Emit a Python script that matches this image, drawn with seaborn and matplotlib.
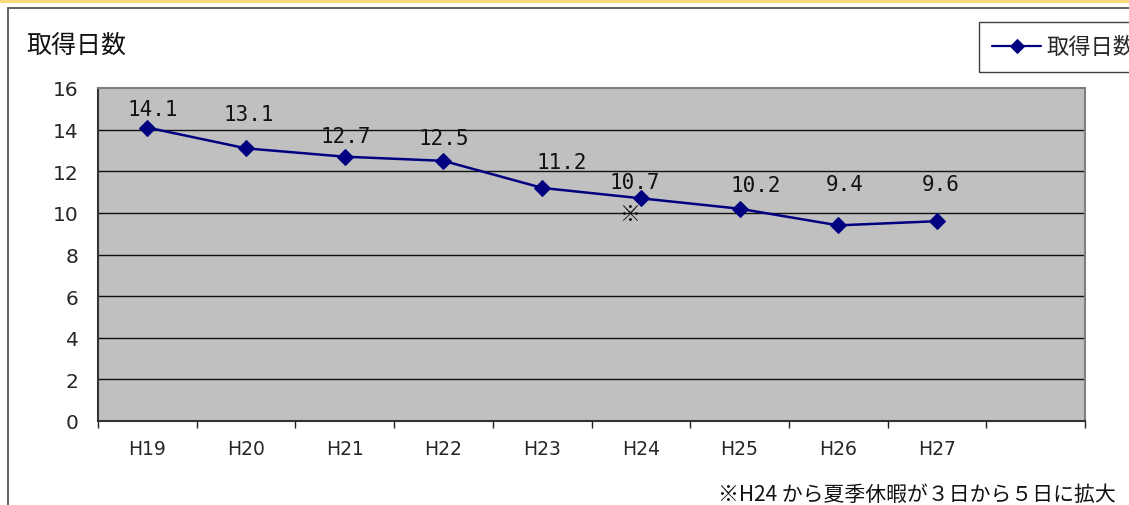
import matplotlib
matplotlib.use("Agg")
import matplotlib.pyplot as plt
from matplotlib.patches import Rectangle
from matplotlib.ticker import FixedLocator
import seaborn as sns
import pandas as pd

years = ["H19", "H20", "H21", "H22", "H23", "H24", "H25", "H26", "H27"]
days = [14.1, 13.1, 12.7, 12.5, 11.2, 10.7, 10.2, 9.4, 9.6]
y_ticks = [0, 2, 4, 6, 8, 10, 12, 14, 16]
series_name = "取得日数"
note_year = "H24"
footnote = "※H24 から夏季休暇が３日から５日に拡大"

# hand-placed value labels: shift from each point, in pixels (right, up)
label_shift = [(5, 19), (3, 34), (1, 21), (0, 23), (20, 26), (-6, 16), (16, 24), (6, 41), (4, 37)]

sns.set_theme(style="white")
plt.rcParams["font.family"] = ["Noto Sans CJK JP", "DejaVu Sans"]
NARROW = ["DejaVu Sans Condensed", "DejaVu Sans"]

W, H = 1129, 506
fig = plt.figure(figsize=(W / 100, H / 100), dpi=100)

def fx(px):
    return px / W

def fy(py):
    return 1 - py / H

# page decoration: yellow band and chart frame (kept behind the axes)
fig.patches.append(Rectangle((0, fy(3.5)), 1, 3.5 / H, transform=fig.transFigure,
                             facecolor="#FAD77C", edgecolor="none", zorder=-5))
fig.patches.append(Rectangle((fx(7.5), fy(520)), 1.2, (520 - 9) / H, transform=fig.transFigure,
                             facecolor="white", edgecolor="#555555", linewidth=1.3, zorder=-5))

ax = fig.add_axes([fx(98), fy(422), fx(1085) - fx(98), fy(89) - fy(422)])
ax.set_zorder(2)
ax.set_facecolor("#C0C0C0")

df = pd.DataFrame({"year": years, "days": days})
sns.lineplot(data=df, x="year", y="days", ax=ax, color="#000080", linewidth=1.8,
             marker="D", markersize=8, markeredgecolor="#000080", label=series_name,
             legend=False, zorder=3)

ax.set_xlim(-0.5, 9.5)
ax.set_ylim(0, 16)
ax.set_yticks(y_ticks)
ax.set_yticklabels([str(v) for v in y_ticks], fontsize=14.5, family=NARROW)
ax.set_xticks(range(len(years)))
ax.set_xticklabels(years, fontsize=13.5, family=NARROW)
ax.xaxis.set_minor_locator(FixedLocator([i - 0.5 for i in range(11)]))
ax.tick_params(axis="x", which="major", length=0, pad=13)
ax.tick_params(axis="x", which="minor", length=5, width=1, color="#222222", direction="out")
ax.tick_params(axis="y", which="major", length=4, width=1.2, color="#333333", pad=14,
               direction="in")
ax.xaxis.set_tick_params(bottom=True, which="minor")
ax.set_xlabel("")
ax.set_ylabel("")

for y in y_ticks[1:-1]:
    ax.axhline(y, color="#111111", linewidth=1.0, zorder=1)

for side in ("top", "right"):
    ax.spines[side].set_color("#808080")
    ax.spines[side].set_linewidth(1.5)
for side in ("left", "bottom"):
    ax.spines[side].set_color("#333333")
    ax.spines[side].set_linewidth(1.5)

for i, (v, (dx, dy)) in enumerate(zip(days, label_shift)):
    ax.annotate(f"{v:.1f}", (i, v), xytext=(dx, dy), textcoords="offset pixels",
                ha="center", va="center", fontsize=15,
                family=["DejaVu Sans Mono"], color="#111111")

ni = years.index(note_year)
ax.annotate("※", (ni, days[ni]), xytext=(-11, -16), textcoords="offset pixels",
            ha="center", va="center", fontsize=15, color="#111111")

fig.text(fx(26), fy(46), series_name, fontsize=18, ha="left", va="center", color="#111111")
fig.text(fx(1116), fy(495), footnote, fontsize=15, ha="right", va="center", color="#111111")

handles, labels = ax.get_legend_handles_labels()
leg = fig.legend(handles, labels, loc="upper left",
                 bbox_to_anchor=(fx(979), fy(23)), bbox_transform=fig.transFigure,
                 borderaxespad=0, frameon=True, fancybox=False, fontsize=16,
                 handlelength=2.2, borderpad=0.6, handletextpad=0.25)
leg.get_frame().set_edgecolor("#111111")
leg.get_frame().set_linewidth(1.0)
leg.set_zorder(3)
for h in leg.get_lines():
    h.set_markersize(7)
    h.set_linewidth(1.6)

fig.savefig("out.png", dpi=100)
